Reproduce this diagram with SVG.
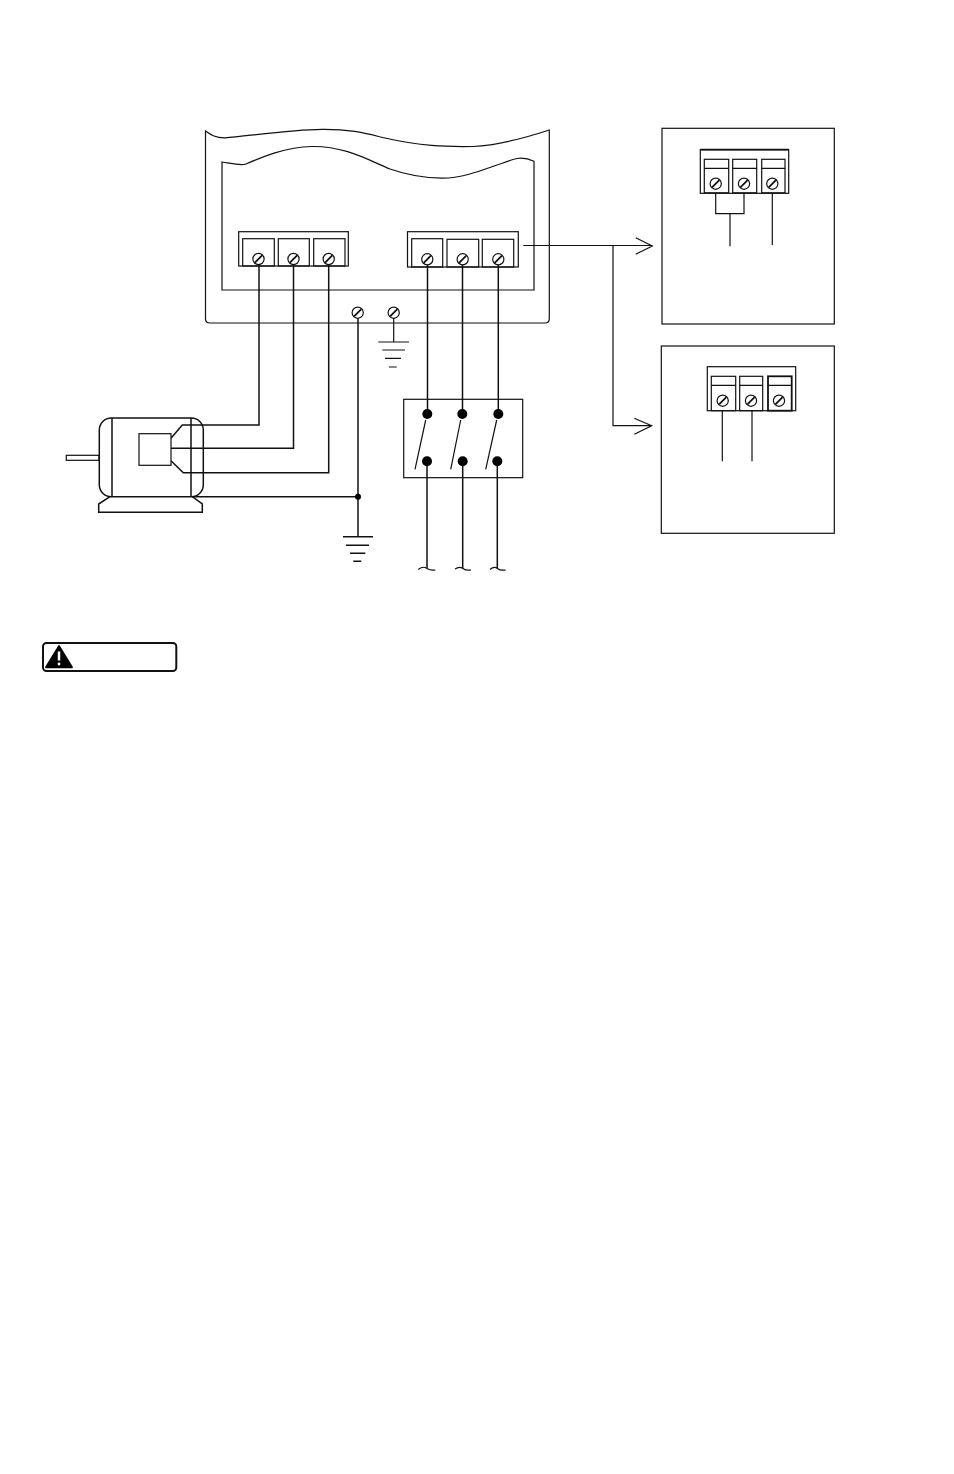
<svg xmlns="http://www.w3.org/2000/svg" width="954" height="1474" viewBox="0 0 954 1474">
<style>
.l{fill:none;stroke:#111;stroke-width:1.2}
.w{fill:none;stroke:#111;stroke-width:1.5}
.h{fill:none;stroke:#111;stroke-width:1.8}
.f{fill:#fff;stroke:#111;stroke-width:1.2}
.d{fill:#000;stroke:none}
.s{fill:#fff;stroke:#111;stroke-width:1.2}
</style>
<defs>
<g id="screw"><circle r="5.6" class="s"/><path d="M-3.6 3.6L3.6-3.6" class="h"/></g>
</defs>
<rect width="954" height="1474" fill="#fff"/>
<g id="drive">
<path class="l" d="M205.500 131C211 135 216 138 225 137.800C245 136.500 290 129.500 322 129.300C352 129 368 134 385 138C420 146 445 147 473 146.500C500 145 525 138 549.300 130V318.700Q549.300 323 545 323H210Q205.500 323 205.500 318.700Z"/>
<path class="l" d="M222 290V162C230 163 240 166 246 164C262 157 285 147 312 146.500C345 146 368 160 390 169C410 176 425 178 442 178.200C470 178 495 164 517 158.500C523 157.500 529 159 534 161.300V290Z"/>
</g>
<g id="terminal-left">
<rect class="l" x="238.700" y="231.700" width="109.600" height="34.300"/>
<rect class="l" x="242.700" y="238.700" width="31.600" height="27.300"/>
<rect class="l" x="278.300" y="238.700" width="31" height="27.300"/>
<rect class="l" x="313.700" y="238.700" width="31.300" height="27.300"/>
<use href="#screw" x="258.500" y="259"/>
<use href="#screw" x="293.500" y="259"/>
<use href="#screw" x="328.700" y="259"/>
</g>
<g id="terminal-right">
<rect class="l" x="407.500" y="231.700" width="110.800" height="35.300"/>
<rect class="l" x="411.700" y="238.700" width="31" height="28.300"/>
<rect class="l" x="447" y="239.300" width="31.700" height="27.700"/>
<rect class="l" x="482.300" y="239.300" width="31.400" height="27.700"/>
<use href="#screw" x="427.300" y="259.300"/>
<use href="#screw" x="462.700" y="259.300"/>
<use href="#screw" x="498.300" y="259.300"/>
</g>
<g id="connectors">
<path class="w" d="M171 438.300L182.300 425H259V265"/>
<path class="w" d="M171 448.300H293.500V265"/>
<path class="w" d="M171 460.700L183.300 472.700H328.700V265"/>
<path class="w" d="M192.500 496.700H358"/>
<path class="w" d="M358 318.300V536.700"/>
<path class="l" d="M393.700 318.300V342"/>
<path class="w" d="M427.500 265V409M462.500 265V409M498.300 265V409"/>
<path class="w" d="M427 466V568.500M462.700 466V568.500M497.300 466V568.500"/>
<path class="l" d="M418.300 569.500C422 566.500 425 567 427 568.500C430 570.500 432 570.500 435.300 570"/>
<path class="l" d="M455 569C458.500 566.500 461 567 463 568.500C465.500 570.500 468 570.500 471 570"/>
<path class="l" d="M490 569.500C493.500 566.500 495.500 567 497.500 568.500C500 570.500 502.500 570.500 505.700 570"/>
<path class="l" d="M523.300 245.500H652.300M635.700 237.700L652.300 246L635.700 254.300"/>
<path class="l" d="M613 245.500V425.700H651.700M634.300 418.300L651.700 425.700L634.300 434.300"/>
<circle class="d" cx="358" cy="496.700" r="3"/>
</g>
<g id="chassis-screws">
<use href="#screw" x="357.700" y="312.700"/>
<use href="#screw" x="393.700" y="312.700"/>
</g>
<g id="ground-upper">
<path class="l" d="M378.300 342H409M382.300 350H405M385 358.300H401M389 367H396.700"/>
</g>
<g id="ground-lower">
<path class="w" d="M343 536.700H373M346 545.300H369M350 553.300H365.300M353.300 561.300H361.300"/>
</g>
<g id="motor">
<rect class="f" x="66.300" y="455.300" width="32.700" height="5"/>
<rect class="w" x="99.300" y="418" width="104" height="78.700" rx="12"/>
<path class="w" d="M112 418V496.700M191 418V496.700"/>
<path class="w" d="M110 496.700L98.700 504V512.300H202.300V504L192.300 496.700"/>
<rect class="f" x="139" y="433.700" width="32" height="31.600"/>
</g>
<g id="switch">
<rect class="l" x="403.700" y="399.300" width="119" height="78.400"/>
<circle class="d" cx="427.300" cy="414" r="5"/>
<circle class="d" cx="462.300" cy="414" r="5"/>
<circle class="d" cx="498.300" cy="414" r="5"/>
<circle class="d" cx="427" cy="461.300" r="5"/>
<circle class="d" cx="462.700" cy="461.300" r="5"/>
<circle class="d" cx="497.300" cy="461.300" r="5"/>
<path class="l" d="M425.700 420L415 469.300M460.700 420L450.700 469.300M496.700 420L485.700 469.300"/>
</g>
<g id="option-box-1">
<rect class="l" x="662" y="128.300" width="172.300" height="195.700"/>
<rect class="l" x="700.300" y="149.700" width="88.400" height="43.600"/>
<path class="h" d="M700.300 149.700H788.700"/>
<rect class="l" x="704.300" y="159.300" width="24.400" height="33.500"/>
<rect class="l" x="732.700" y="159.300" width="24" height="33.500"/>
<rect class="l" x="761.700" y="159.300" width="23.300" height="33.500"/>
<path class="l" d="M704.300 168.300H728.700M732.700 168.300H756.700M761.700 168.300H785"/>
<use href="#screw" x="715.700" y="183.700"/>
<use href="#screw" x="744" y="183.700"/>
<use href="#screw" x="772.300" y="183.700"/>
<path class="l" d="M715.700 193.300V213.700H744V193.300M730 213.700V246.300M772.300 193.300V245"/>
</g>
<g id="option-box-2">
<rect class="l" x="661.300" y="346" width="173" height="187.300"/>
<rect class="l" x="707.300" y="366.700" width="88.400" height="44"/>
<rect class="l" x="711.300" y="376.300" width="24.400" height="34.400"/>
<rect class="l" x="739.700" y="376.300" width="23" height="34.400"/>
<rect class="h" x="768" y="376.300" width="23.700" height="34.400"/>
<path class="l" d="M711.300 385.300H735.700M739.700 385.300H762.700M768 385.300H791.700"/>
<use href="#screw" x="722.700" y="400.700"/>
<use href="#screw" x="751" y="400.700"/>
<use href="#screw" x="779" y="400.700"/>
<path class="l" d="M722.300 410.700V461.300M752 410.700V461.300"/>
</g>
<g id="warning">
<rect x="43" y="643" width="133.300" height="28" rx="3.500" fill="#fff" stroke="#111" stroke-width="2"/>
<path d="M59 646L72 667.300H46Z" fill="#000" stroke="#000" stroke-width="1.800" stroke-linejoin="round"/>
<path d="M59 651.500V660.500" stroke="#fff" stroke-width="2.500" fill="none"/>
<circle cx="59" cy="664" r="1.400" fill="#fff"/>
</g>
</svg>
